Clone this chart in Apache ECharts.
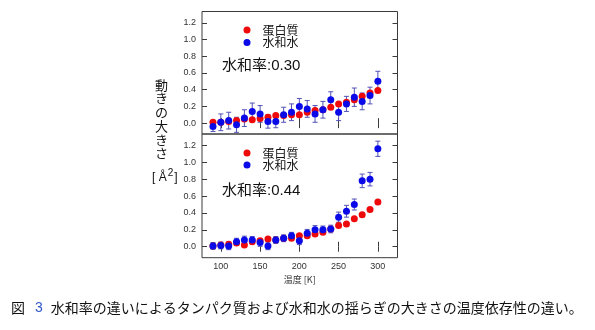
<!DOCTYPE html>
<html><head><meta charset="utf-8">
<script src="https://cdn.jsdelivr.net/npm/echarts@6/dist/echarts.min.js"></script>
<style>html,body{margin:0;padding:0;background:#fff}#c{width:595px;height:330px}</style>
</head><body><div id="c"></div>
<script>
// ---- data ----
const temps = [90,100,110,120,130,140,150,160,170,180,190,200,210,220,230,240,250,260,270,280,290,300];
const protein030 = [0.01,0.01,0.02,0.03,0.05,0.04,0.055,0.07,0.09,0.09,0.10,0.10,0.13,0.15,0.16,0.19,0.23,0.25,0.28,0.32,0.36,0.39];
const water030   = [-0.04,0.01,0.03,-0.02,0.06,0.14,0.11,0.02,0.02,0.10,0.13,0.20,0.17,0.11,0.16,0.28,0.13,0.23,0.31,0.26,0.33,0.50];
const waterErr030= [0.06,0.10,0.10,0.09,0.10,0.10,0.10,0.08,0.075,0.09,0.10,0.095,0.10,0.10,0.10,0.095,0.10,0.09,0.11,0.10,0.10,0.12];
const protein044 = [0.01,0.02,0.03,0.045,0.02,0.06,0.07,0.09,0.08,0.10,0.10,0.13,0.13,0.15,0.17,0.21,0.25,0.27,0.33,0.38,0.44,0.53];
const water044   = [0.01,0.015,0.01,0.06,0.08,0.08,0.05,0.01,0.08,0.10,0.13,0.07,0.16,0.20,0.20,0.21,0.35,0.42,0.50,0.78,0.80,1.16];
const waterErr044= [0.04,0.04,0.045,0.04,0.045,0.04,0.045,0.045,0.04,0.04,0.04,0.045,0.045,0.05,0.045,0.045,0.06,0.07,0.065,0.08,0.08,0.09];
const xTickValues = [100,150,200,250,300];
const yTickValues = [0,0.2,0.4,0.6,0.8,1.0,1.2];
const seriesNames = ['蛋白質','水和水'];
const panelLabels = ['水和率:0.30','水和率:0.44'];

// ---- chart ----
const RED = '#ee0a0a', BLUE = '#0a0ae8', ERR = '#5252b8', FRAME = '#3a3a3a';
const FONT = '"Liberation Sans", Arial, "Noto Sans CJK JP", sans-serif';
const CJK = '"Noto Sans CJK JP", sans-serif';

function xAx(grid, pos, labels){
  return {type:'value', gridIndex:grid, position:pos, min:76, max:325,
    axisLine:{show:false}, splitLine:{show:false},
    axisTick:{show:true, inside:true, length:5, lineStyle:{color:FRAME}, customValues:xTickValues},
    axisLabel:{show:labels, fontSize:9, color:'#333', fontFamily:FONT, margin:4, customValues:xTickValues},
    name: labels ? '温度 [K]' : '', nameLocation:'middle', nameGap:17,
    nameTextStyle:{fontSize:9, color:'#333', fontFamily:CJK}};
}
function yAx(grid, pos, labels){
  return {type:'value', gridIndex:grid, position:pos, min:-0.13, max:1.335,
    axisLine:{show:false}, splitLine:{show:false},
    axisTick:{show:true, inside:true, length:5, lineStyle:{color:FRAME}, customValues:yTickValues},
    axisLabel:{show:labels, fontSize:9, color:'#333', fontFamily:FONT, margin:6, customValues:yTickValues,
      formatter:v=>v.toFixed(1)}};
}
function errRender(params, api){
  const x = api.value(0), y = api.value(1), e = api.value(2);
  const t = api.coord([x, y+e]), b = api.coord([x, y-e]);
  const cw = 2.5, st = {stroke:ERR, lineWidth:1};
  return {type:'group', children:[
    {type:'line', shape:{x1:t[0],y1:t[1],x2:b[0],y2:b[1]}, style:st},
    {type:'line', shape:{x1:t[0]-cw,y1:t[1],x2:t[0]+cw,y2:t[1]}, style:st},
    {type:'line', shape:{x1:b[0]-cw,y1:b[1],x2:b[0]+cw,y2:b[1]}, style:st}
  ]};
}
function panelSeries(xi, yi, prot, water, err){
  return [
    {type:'custom', name:'err'+xi, xAxisIndex:xi, yAxisIndex:yi, renderItem:errRender,
      data:temps.map((t,i)=>[t, water[i], err[i]]), encode:{x:0,y:1}, silent:true, z:1},
    {type:'scatter', name:seriesNames[0], xAxisIndex:xi, yAxisIndex:yi, symbolSize:7,
      itemStyle:{color:RED, opacity:1}, data:temps.map((t,i)=>[t, prot[i]]), z:2},
    {type:'scatter', name:seriesNames[1], xAxisIndex:xi, yAxisIndex:yi, symbolSize:7,
      itemStyle:{color:BLUE, opacity:1}, data:temps.map((t,i)=>[t, water[i]]), z:3}
  ];
}
function legendAt(top, gap){
  return {data:seriesNames, orient:'vertical', left:238.5, top:top, itemWidth:7, itemHeight:7,
    itemGap:gap, icon:'circle', selectedMode:false,
    textStyle:{fontSize:12, color:'#111', fontFamily:CJK, lineHeight:12, padding:[0,0,0,7]}};
}

const chart = echarts.init(document.getElementById('c'), null, {renderer:'canvas'});
chart.setOption({
  animation:false,
  backgroundColor:'#fff',
  grid:[
    {left:202, top:11.5, width:195.5, height:122.5, show:true, borderColor:FRAME, borderWidth:1, backgroundColor:'transparent'},
    {left:202, top:134, width:195.5, height:123.7, show:true, borderColor:FRAME, borderWidth:1, backgroundColor:'transparent'}
  ],
  xAxis:[xAx(0,'bottom',false), xAx(0,'top',false), xAx(1,'bottom',true), xAx(1,'top',false)],
  yAxis:[yAx(0,'left',true), yAx(0,'right',false), yAx(1,'left',true), yAx(1,'right',false)],
  legend:[legendAt(19,0.5), legendAt(142,0)],
  series:[].concat(
    panelSeries(0,0,protein030,water030,waterErr030),
    panelSeries(2,2,protein044,water044,waterErr044)
  ),
  graphic:[
    {type:'text', left:222, top:58, style:{text:panelLabels[0], fontSize:15, fill:'#111', fontFamily:FONT}},
    {type:'text', left:222, top:183.5, style:{text:panelLabels[1], fontSize:15, fill:'#111', fontFamily:FONT}},
    {type:'text', left:155, top:78, style:{text:'動\nき\nの\n大\nき\nさ', fontSize:13, lineHeight:13.7, fill:'#111', fontFamily:CJK}},
    {type:'text', left:152, top:168, style:{text:'{a|[ Å}{s|2}{a|]}', fill:'#111',
      rich:{a:{fontSize:12, fontFamily:FONT, fill:'#111'}, s:{fontSize:10, fontFamily:FONT, fill:'#111', padding:[0,1,9,1]}}}},
    {type:'text', left:11, top:301, style:{text:'{a|図}{b|3}{a|水和率の違いによるタンパク質および水和水の揺らぎの大きさの温度依存性の違い。}',
      rich:{a:{fontSize:14, fontFamily:CJK, fill:'#111'}, b:{fontSize:14, fontFamily:FONT, fill:'#2f58c8', padding:[0,8,0,10]}}}}
  ]
});
</script></body></html>
